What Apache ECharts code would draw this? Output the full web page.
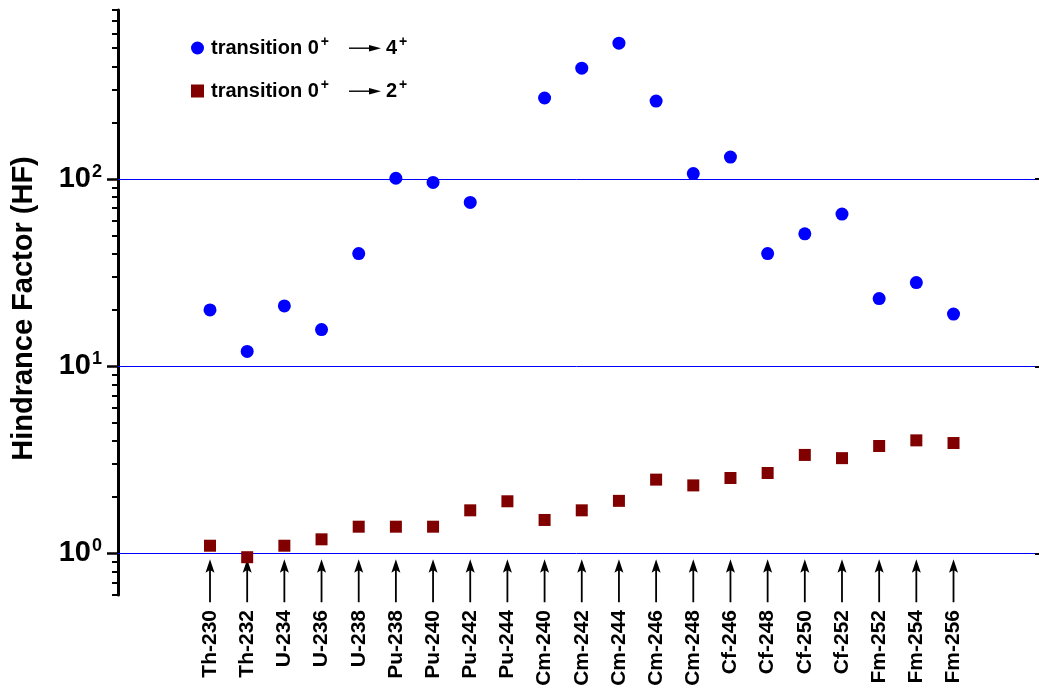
<!DOCTYPE html>
<html><head><meta charset="utf-8">
<script src="https://cdn.jsdelivr.net/npm/echarts@6/dist/echarts.min.js"></script>
<style>html,body{margin:0;padding:0;background:#fff}#c{width:1039px;height:690px}</style>
</head><body><div id="c"></div>
<script>
// ---- data ----
const categories = ['Th-230','Th-232','U-234','U-236','U-238','Pu-238','Pu-240','Pu-242','Pu-244','Cm-240','Cm-242','Cm-244','Cm-246','Cm-248','Cf-246','Cf-248','Cf-250','Cf-252','Fm-252','Fm-254','Fm-256'];
const hf04 = [20, 12, 21, 15.7, 40, 101, 96, 75, null, 271, 391, 532, 261, 107, 131, 40, 51, 65, 23, 28, 19];
const hf02 = [1.1, 0.955, 1.1, 1.19, 1.39, 1.39, 1.39, 1.70, 1.90, 1.51, 1.70, 1.91, 2.48, 2.31, 2.53, 2.69, 3.36, 3.23, 3.75, 4.02, 3.89];
const majorTicks = [1, 10, 100];
const minorTicks = [0.6,0.7,0.8,0.9,2,3,4,5,6,7,8,9,20,30,40,50,60,70,80,90,200,300,400,500,600,700,800];
const seriesNames = ['transition 0+ -> 4+', 'transition 0+ -> 2+'];
const legendParts = [['0','4'],['0','2']];

// ---- chart ----
const FONT = 'Liberation Sans, Arial, sans-serif';
const yMin = 0.6, yMax = 800;
const arrowLevel = 0.714;

// small arrow glyph for the legend text
const arrowCanvas = document.createElement('canvas');
arrowCanvas.width = 32; arrowCanvas.height = 10;
(function(){
  const g = arrowCanvas.getContext('2d');
  g.fillStyle = '#000';
  g.fillRect(0, 4.5, 22, 1.4);
  g.beginPath(); g.moveTo(20, 2); g.lineTo(32, 5.2); g.lineTo(20, 8.4); g.closePath(); g.fill();
})();

const chart = echarts.init(document.getElementById('c'), null, {renderer:'canvas'});
const idx = categories.map((c,i)=>i);
const logAxisBase = {type:'log', logBase:10, min:yMin, max:yMax, splitLine:{show:false}, minorTick:{show:false}, minorSplitLine:{show:false}};
chart.setOption({
  animation:false,
  backgroundColor:'#fff',
  grid:{left:118, right:4, top:10, bottom:95, containLabel:false},
  legend:{
    orient:'vertical', left:186, top:30, itemGap:20, itemWidth:13, itemHeight:13,
    data: seriesNames,
    formatter: function(name){
      const k = seriesNames.indexOf(name);
      const p = legendParts[k];
      return '{t|transition ' + p[0] + '}{s|+}{g| }{a| }{h| }{t|' + p[1] + '}{s|+}';
    },
    textStyle:{
      color:'#000', padding:[0,0,0,2],
      rich:{
        t:{fontSize:20, fontWeight:'bold', fontFamily:FONT, color:'#000'},
        s:{fontSize:14, fontWeight:'bold', fontFamily:FONT, color:'#000', padding:[0,0,12,2]},
        g:{width:20, fontSize:10},
        a:{width:32, height:10, fontSize:10, backgroundColor:{image: arrowCanvas}},
        h:{width:5, fontSize:10}
      }
    }
  },
  xAxis:{
    type:'value', min:-2.475, max:22.192,
    axisLine:{show:false, onZero:false}, axisTick:{show:false}, splitLine:{show:false},
    axisLabel:{
      customValues: idx, rotate:90, margin:15,
      formatter: v => categories[Math.round(v)] || '',
      fontSize:21, fontWeight:'bold', fontFamily:FONT, color:'#000'
    }
  },
  yAxis:[
    Object.assign({}, logAxisBase, {
      position:'left',
      axisLine:{show:true, onZero:false, lineStyle:{color:'#000', width:3}},
      axisTick:{show:true, customValues: majorTicks, length:11, lineStyle:{color:'#000', width:2.5}},
      axisLabel:{
        customValues: majorTicks, margin:16,
        formatter: v => '{b|10}{s|' + Math.round(Math.log10(v)) + '}',
        rich:{
          b:{fontSize:29, fontWeight:'bold', fontFamily:FONT, color:'#000'},
          s:{fontSize:18, fontWeight:'bold', fontFamily:FONT, color:'#000', padding:[0,0,14,1]}
        }
      },
      name:'Hindrance Factor (HF)', nameLocation:'middle', nameGap:80,
      nameTextStyle:{fontSize:29, fontWeight:'bold', fontFamily:FONT, color:'#000', padding:[0,12,0,0]}
    }),
    Object.assign({}, logAxisBase, {
      position:'left',
      axisLine:{show:false, onZero:false},
      axisTick:{show:true, customValues: minorTicks, length:6, lineStyle:{color:'#000', width:2}},
      axisLabel:{show:false}
    }),
    Object.assign({}, logAxisBase, {
      position:'right',
      axisLine:{show:false, onZero:false},
      axisTick:{show:true, customValues: majorTicks, length:4, lineStyle:{color:'#000', width:2}},
      axisLabel:{show:false}
    })
  ],
  series:[
    {
      type:'scatter', name: seriesNames[0], z:3,
      data: hf04.map((v,i) => [i, v]).filter(d => d[1] != null),
      symbol:'circle', symbolSize:13,
      itemStyle:{color:'#0000ff', opacity:1},
      markLine:{
        silent:true, symbol:['none','none'], label:{show:false}, z:1,
        lineStyle:{color:'#0000ff', width:1, type:'solid', opacity:1},
        emphasis:{disabled:true},
        data: majorTicks.map(v => ({yAxis:v}))
      }
    },
    {
      type:'scatter', name: seriesNames[1], z:3,
      data: hf02.map((v,i) => [i, v]),
      symbol:'rect', symbolSize:12,
      itemStyle:{color:'#800000', opacity:1}
    },
    {
      type:'scatter', name:'arrows', silent:true, z:2,
      data: idx.map(i => [i, arrowLevel]),
      symbol:'path://M4,0 L8,13 L4.8,11 L4.8,42 L3.2,42 L3.2,11 L0,13 Z',
      symbolSize:[9,43], symbolKeepAspect:false,
      itemStyle:{color:'#000', opacity:1}
    }
  ]
});
</script></body></html>
